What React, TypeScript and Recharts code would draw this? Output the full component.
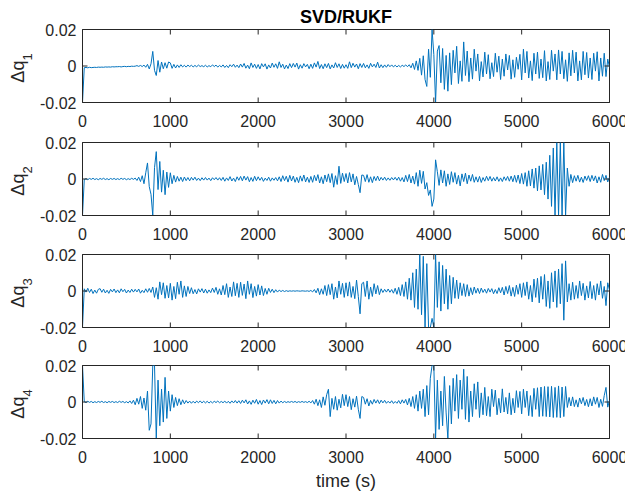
import React from 'react';
import { LineChart, Line, XAxis, YAxis, ReferenceLine } from 'recharts';

// signals are sampled every DT seconds; values are in units of 1e-4
const DT = 20;
const UNIT = 1e-4;

const q1 = [
  -200, -9, -8, -10, -7, -9, -8, -7, -8, -6,
  -7, -6, -7, -5, -6, -5, -6, -4, -5, -4,
  -4, -3, -5, -3, -2, -4, -2, -3, -1, -2,
  -1, 2, -2, 3, -3, 5, -7, 9, -16, 12,
  80, -24, -52, 30, -34, 22, -15, 18, -12, 22,
  17, -13, 9, -11, 6, -8, 7, -5, 4, -6,
  5, -3, 4, -5, 3, -4, 5, -3, 2, -4,
  4, -5, 2, -4, 6, -3, 5, -6, 3, -5,
  6, -8, 3, -9, 7, -4, 10, -7, 5, -9,
  11, -6, 14, -12, 5, -15, 17, -8, 10, -13,
  8, -16, 13, -5, 12, -17, 6, -11, 16, -7,
  12, -13, 23, -8, 10, -16, 5, -14, 13, -9,
  14, -6, 16, -17, 7, -12, 13, -5, 9, -15,
  10, -13, 17, -6, 25, -14, 8, -15, 12, -9,
  14, -16, 6, -11, 18, -8, 12, -14, 9, -12,
  7, -13, 23, -9, 15, -6, 11, -15, 13, -8,
  14, -10, 6, -13, 15, -5, 10, -8, 21, -11,
  7, -9, 6, -7, 8, -4, 6, -5, 4, -5,
  3, -5, 4, -3, 6, -4, 7, -10, 15, -19,
  28, -24, 42, -50, 56, -74, -112, 92, -62, 200,
  62, -200, 82, 112, -92, 96, -128, 58, -138, 72,
  -102, 86, -38, 108, -96, 28, -84, 132, -52, 82,
  -86, 44, -72, 92, -28, 66, -82, 24, -60, 76,
  -44, 62, -70, 18, -58, 70, -34, 54, -74, 38,
  -56, 66, -22, 58, -72, 34, -62, 48, -18, 64,
  -76, 92, -38, 80, -66, 28, -80, 70, -44, 76,
  -68, 38, -64, 84, -82, 24, -74, 86, -28, 66,
  -76, 88, -44, 80, -70, 34, -84, 72, -54, 86,
  -38, 76, -82, 28, -76, 80, -48, 74, -66, 44,
  -74, 70, -28, 78, -82, 44, -56, 70, -58, 38,
  -8,
];

const q2 = [
  -200, -3, 2, -4, 3, -2, 4, -3, 2, -4,
  3, -2, 4, -3, 2, -4, 3, -2, 3, -3,
  2, -3, 4, -2, 3, -4, 2, -3, 4, -2,
  5, -8, 10, -14, 18, -26, 34, 88, -42, -84,
  -200, 62, 150, -58, 96, -72, 48, -86, 38, -46,
  34, -26, 20, -17, 14, -12, 10, -14, 11, -9,
  8, -10, 9, -6, 10, -8, 5, -9, 7, -6,
  8, -6, 5, -9, 7, -4, 8, -6, 7, -8,
  9, -12, 6, -8, 13, -11, 5, -14, 12, -7,
  14, -10, 16, -6, 13, -15, 8, -13, 15, -9,
  12, -7, 9, -13, 5, -8, 10, -12, 6, -7,
  8, -10, 12, -14, 18, -9, 15, -17, 20, -11,
  16, -18, 9, -20, 17, -12, 22, -16, 10, -19,
  14, -18, 20, -10, 24, -22, 12, -26, 22, -15,
  28, -20, 30, -45, 18, -30, 70, -24, 32, -14,
  30, -22, 35, -16, 28, -32, 14, -30, -75, 22,
  20, -14, 24, -18, 12, -20, 14, -9, 16, -10,
  9, -6, 10, -8, 6, -7, 8, -5, 9, -7,
  10, -12, 8, -16, 20, -14, 25, -22, 16, -28,
  35, -40, 48, -24, 42, -55, -20, -90, -60, -150,
  -110, 105, 40, -35, 50, -22, 45, -40, 28, -30,
  40, -18, 35, -28, 20, -38, 28, -14, 32, -26,
  22, -12, 25, -18, 12, -17, 14, -19, 8, -12,
  15, -9, 14, -12, 8, -11, 12, -13, 6, -14,
  12, -8, 14, -12, 16, -15, 20, -18, 22, -25,
  30, -28, 35, -40, 45, -38, 55, -50, 60, -65,
  72, -60, 80, -86, 92, -110, 130, -150, 170, -200,
  200, -200, 200, -200, 200, -200, 60, -40, 25, -20,
  18, -12, 20, -17, 10, -19, 16, -8, 18, -14,
  20, -10, 17, -22, 12, -18, 25, -9, 20, -16,
  10,
];

const q3 = [
  -200, 12, -6, 15, -8, 10, -14, 5, -12, 9,
  13, -7, 10, -11, 4, -13, 9, -5, 11, -9,
  6, -10, 12, -4, 9, -11, 5, -8, 10, -6,
  9, -5, 11, -12, 4, -9, 12, -7, 14, -8,
  22, -35, 18, -45, 50, -20, 45, -40, 30, -38,
  42, -50, 25, -42, 48, -18, 55, -35, 28, -30,
  25, -14, 18, -15, 8, -16, 12, -6, 13, -11,
  10, -12, 6, -9, 16, -8, 20, -18, 12, -22,
  30, -20, 40, -35, 22, -30, 50, -26, 42, -35,
  48, -24, 38, -42, 55, -18, 40, -36, 25, -28,
  35, -22, 28, -25, 14, -18, 15, -8, 10, -9,
  7, -6, 5, -3, 3, -3, 2, -2, 1, -1,
  1, -1, 1, 0, -1, 1, 0, -1, 1, -2,
  3, -5, 8, -10, 15, -20, 12, -18, 30, -25,
  35, -20, 40, -45, 22, -38, 55, -18, 42, -35,
  45, -28, 50, -35, 25, -42, 60, -30, -125, 40,
  48, -30, 55, -45, 22, -30, 40, -16, 30, -20,
  12, -8, 9, -6, 11, -7, 8, -12, 15, -18,
  20, -25, 35, -30, 50, -45, 70, -50, 100, -90,
  120, -100, 200, -130, 190, -200, 150, -200, -200, -150,
  -200, 200, -90, 160, -110, 140, -70, 120, -100, 85,
  -70, 75, -40, 60, -42, 45, -25, 40, -30, 35,
  -28, 18, -20, 22, -12, 15, -14, 16, -8, 10,
  -12, 14, -6, 13, -15, 8, -14, 18, -10, 20,
  -22, 25, -14, 30, -28, 20, -30, 32, -18, 40,
  -35, 45, -25, 50, -45, 30, -60, 65, -35, 70,
  -65, 80, -45, 90, -85, 55, -95, 100, -60, 110,
  -90, 120, -70, 150, -160, 165, -60, 40, -50, 48,
  -45, 30, -40, 55, -25, 42, -50, 28, -38, 52,
  -42, 30, -50, 40, -22, 55, -40, 25, -80, 45,
  5,
];

const q4 = [
  200, 2, -3, 4, -2, 3, -4, 2, -3, 3,
  -2, 4, -3, 2, -4, 3, -2, 3, -3, 2,
  -3, 4, -2, 3, -4, 2, -5, 6, -8, 10,
  -15, 20, -12, 30, -35, 22, -45, 60, -155, -120,
  200, 200, -200, 120, -130, 70, -110, 135, -90, 60,
  -50, 40, -30, 25, -20, 18, -15, 12, -10, 8,
  -6, 5, -7, 4, -6, 5, -4, 6, -5, 4,
  -5, 4, -6, 3, -5, 4, -3, 5, -4, 3,
  -4, 5, -6, 4, -7, 6, -5, 8, -6, 7,
  -8, 10, -5, 12, -11, 6, -13, 10, -7, 14,
  -12, 8, -14, 11, -6, 13, -10, 12, -8, 9,
  -10, 8, -6, 5, -4, 3, -3, 2, -2, 3,
  -2, 3, -3, 2, -2, 3, -2, 2, -3, 4,
  -5, 8, -12, 15, -20, 12, -30, 28, -18, 40,
  70, -80, 20, -40, 30, -45, 15, -32, 42, -20,
  40, -25, 30, -42, 18, -28, 32, -40, -90, 30,
  25, -12, 18, -22, 9, -12, 14, -6, 12, -9,
  10, -5, 9, -7, 4, -6, 7, -8, 3, -7,
  8, -10, 12, -6, 14, -16, 20, -25, 30, -35,
  40, -50, 60, -35, 70, -80, 90, -70, 130, 200,
  200, -200, 120, -150, 60, -130, 140, -60, -200, 90,
  -120, 130, -50, 150, -90, 120, -40, 180, -95, 140,
  -110, 60, -80, 100, -40, 110, -85, 50, -70, 80,
  -75, 30, -80, 70, -25, 65, -70, 20, -60, 72,
  -55, 25, -65, 50, -70, 20, -60, 62, -30, 58,
  -65, 70, -30, 60, -75, 35, -80, 75, -40, 78,
  -80, 82, -78, 85, -80, 84, -82, 86, -85, 80,
  -84, 88, -86, 82, -80, 85, -30, 25, -22, 28,
  -25, 12, -28, 22, -10, 25, -20, 14, -26, 18,
  -22, 28, -12, 25, -30, 15, -24, 35, 80, -28,
  10,
];

const xTicks = [0, 1000, 2000, 3000, 4000, 5000, 6000];
const yTicks = [-0.02, 0, 0.02];
const panels = ['q1', 'q2', 'q3', 'q4'];
const subscripts = ['1', '2', '3', '4'];

const data = q1.map((_, i) => ({
  t: i * DT,
  q1: q1[i] * UNIT,
  q2: q2[i] * UNIT,
  q3: q3[i] * UNIT,
  q4: q4[i] * UNIT,
}));

const W = 625;
const LEFT = 82.5;
const RIGHT = 15.5;
const PW = W - LEFT - RIGHT;
const PH = 73;
const MT = 9.5;
const XH = 30.5;
const tops = [29.5, 142.5, 254.5, 365.5];
const TL = 5;
const AX = '#262626';
const BLUE = '#0072BD';
const FONT = '"Liberation Sans", Arial, Helvetica, sans-serif';

const XTick = (props: any) => {
  const { x, y, payload } = props;
  return (
    <g>
      <line x1={x} x2={x} y1={y} y2={y - TL} stroke={AX} />
      <line x1={x} x2={x} y1={y - PH} y2={y - PH + TL} stroke={AX} />
      <text x={x} y={y + 24} textAnchor="middle" fontSize={16} fill={AX} fontFamily={FONT}>
        {payload.value}
      </text>
    </g>
  );
};

const YTick = (props: any) => {
  const { x, y, payload } = props;
  const v = payload.value;
  const label = Math.abs(v) < 1e-9 ? '0' : v.toFixed(2);
  return (
    <g>
      <line x1={x} x2={x + TL} y1={y} y2={y} stroke={AX} />
      <line x1={x + PW} x2={x + PW - TL} y1={y} y2={y} stroke={AX} />
      <text x={x - 6} y={y + 6} textAnchor="end" fontSize={16} fill={AX} fontFamily={FONT}>
        {label}
      </text>
    </g>
  );
};

const Panel = ({ k }: { k: number }) => (
  <div style={{ position: 'absolute', left: 0, top: tops[k] - MT }}>
    <LineChart
      width={W}
      height={MT + PH + XH}
      data={data}
      margin={{ top: MT, right: RIGHT, bottom: 0, left: 0 }}
    >
      <XAxis
        dataKey="t"
        type="number"
        domain={[0, 6000]}
        ticks={xTicks}
        interval={0}
        allowDataOverflow
        height={XH}
        tickSize={0}
        tickMargin={0}
        tickLine={false}
        axisLine={{ stroke: AX }}
        tick={<XTick />}
      />
      <YAxis
        type="number"
        domain={[-0.02, 0.02]}
        ticks={yTicks}
        interval={0}
        allowDataOverflow
        width={LEFT}
        tickSize={0}
        tickMargin={0}
        tickLine={false}
        axisLine={{ stroke: AX }}
        tick={<YTick />}
      />
      <ReferenceLine y={0.02} stroke={AX} strokeWidth={1} />
      <ReferenceLine x={6000} stroke={AX} strokeWidth={1} />
      <Line
        type="linear"
        dataKey={panels[k]}
        stroke={BLUE}
        strokeWidth={1}
        dot={false}
        isAnimationActive={false}
      />
    </LineChart>
  </div>
);

export default function App() {
  return (
    <div
      style={{
        position: 'absolute',
        left: 0,
        top: 0,
        width: W,
        height: 491,
        background: '#fff',
        overflow: 'hidden',
      }}
    >
      {panels.map((_, k) => (
        <Panel key={k} k={k} />
      ))}
      <svg
        width={W}
        height={491}
        style={{ position: 'absolute', left: 0, top: 0, pointerEvents: 'none' }}
      >
        <text x={346} y={23} textAnchor="middle" fontSize={18} fontWeight="bold" fill="#000" fontFamily={FONT}>
          SVD/RUKF
        </text>
        <text x={346} y={487} textAnchor="middle" fontSize={18} fill={AX} fontFamily={FONT}>
          time (s)
        </text>
        {tops.map((top, k) => {
          const cy = top + PH / 2 + 2;
          return (
            <text
              key={k}
              x={24}
              y={cy}
              transform={`rotate(-90, 24, ${cy})`}
              textAnchor="middle"
              fontSize={18}
              fill={AX}
              fontFamily={FONT}
            >
              Δq
              <tspan dy={8} fontSize={13}>
                {subscripts[k]}
              </tspan>
            </text>
          );
        })}
      </svg>
    </div>
  );
}
